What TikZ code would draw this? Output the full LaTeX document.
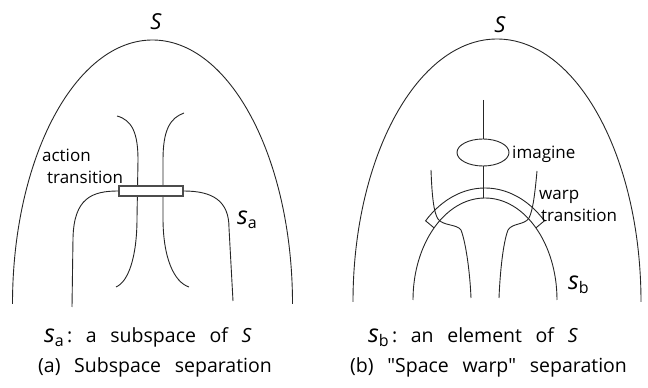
\documentclass[tikz,border=0pt]{standalone}
\usepackage{fontspec}
\setmainfont{Open Sans}
\newfontfamily\plainq{Open Sans}
\usetikzlibrary{shapes.geometric,calc}
\tikzset{
  ln/.style={draw=black!85, line width=0.9pt},
  lbl/.style={inner sep=0pt, anchor=base west, font=\fontsize{17}{17}\selectfont},
  captxt/.style={inner sep=0pt, anchor=base west, font=\fontsize{19.5}{19.5}\selectfont},
  bigS/.style={inner sep=0pt, anchor=base, font=\fontsize{22}{22}\selectfont\itshape},
  trbox/.style={draw=black!70, line width=1.2pt, fill=white, minimum width=64pt, minimum height=10pt, inner sep=0pt},
}
\newcommand{\vs}[1]{{\fontsize{25}{25}\selectfont\itshape s}{\fontsize{16}{16}\selectfont\raisebox{-3.5pt}{#1}}}
\newcommand{\wsp}{\hspace{0.7em}}
\newcommand{\dq}{{\plainq "}}
\begin{document}
\begin{tikzpicture}[x=1pt,y=1pt]
\useasboundingbox (0,0) rectangle (648,388);
% ---------- panel (a) ----------
\draw[ln] (12.5,84) arc[start angle=180, end angle=0, x radius=140, y radius=264];
\node[bigS] (Sa) at (156,358) {S};
\draw[ln] (117,272) .. controls (132,268) and (138,255) .. (138,228) -- (137,170) .. controls (137,130) and (128,106) .. (116,101);
\draw[ln] (184,275) .. controls (170,270) and (163,258) .. (163,228) -- (163,170) .. controls (163,130) and (174,106) .. (189,101);
\node[trbox] (act) at (151,197) {};
% s_a
\draw[ln] (72,81) -- (73,150) .. controls (74,190) and (92,197) .. (act.west);
\draw[ln] (act.east) .. controls (213,197) and (229,187) .. (229,160) -- (233,87);
\node[lbl] (t1) at (42,226) {action};
\node[lbl] (t2) at (47,204) {transition};
\node[inner sep=0pt, anchor=base west] (sa) at (237,163) {\vs{a}};
\node[captxt] (ca1) at (44,45) {\vs{a}\,:\wsp a\wsp subspace\wsp of\wsp \textit{S}};
\node[captxt] (ca2) at (38,15) {(a)\wsp Subspace\wsp separation};
% ---------- panel (b) ----------
\draw[ln] (353,86) arc[start angle=180, end angle=0, x radius=144, y radius=263];
\node[bigS] (Sb) at (500,355) {S};
\node[ln, ellipse, minimum width=52pt, minimum height=27pt, inner sep=0pt] (im) at (483,235.5) {};
\coordinate (imtop) at (483,288);
\coordinate (bandtop) at (483,190);
\draw[ln] (imtop) -- (im.north);
\draw[ln] (im.south) -- (bandtop);
% s_b arch
\draw[ln] (413,88) arc[start angle=180, end angle=0, x radius=72, y radius=102];
% warp band
\draw[ln] ($(485,88)+(135:72 and 102)$) -- ($(485,88)+(135:84 and 112)$)
  arc[start angle=135, end angle=45, x radius=84, y radius=112] -- ($(485,88)+(45:72 and 102)$);
% warped legs
\draw[ln] (431,218) .. controls (432,190) and (434,175) .. (438,169) .. controls (443,162) and (457,164) .. (461,158) .. controls (466,145) and (470,115) .. (471,90);
\draw[ln] (537,217) .. controls (535,195) and (533,178) .. (529,170) .. controls (525,163) and (512,165) .. (508,158) .. controls (503,145) and (500,115) .. (499,90);
\node[lbl] (t3) at (512,229) {imagine};
\node[lbl] (t4) at (539,188) {warp};
\node[lbl] (t5) at (541,166) {transition};
\node[inner sep=0pt, anchor=base west] (sb) at (568,98) {\vs{b}};
\node[captxt] (cb1) at (368,45) {\vs{b}\,:\wsp an\wsp element\wsp of\wsp \textit{S}};
\node[captxt] (cb2) at (350,15) {(b)\wsp \dq Space\wsp warp\dq\wsp separation};
\end{tikzpicture}
\end{document}
